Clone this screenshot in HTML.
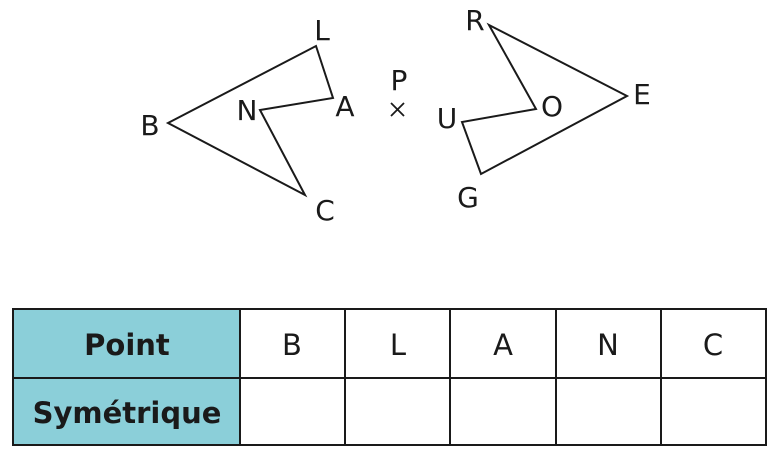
<!DOCTYPE html>
<html><head><style>
html,body{margin:0;padding:0;background:#fff;width:774px;height:462px;overflow:hidden}
svg{display:block}
text{font-family:"DejaVu Sans","Liberation Sans",sans-serif;fill:#1a1a1a}
</style></head><body>
<svg width="774" height="462" viewBox="0 0 774 462">
<g fill="none" stroke="#1a1a1a" stroke-width="2" stroke-linejoin="miter">
<polygon points="168,123 316,46 333,98 260,110 305,195"/>
<polygon points="489,25 627,96 481,174 462,122 536,109"/>
<line x1="391" y1="103" x2="404" y2="116" stroke-width="1.8"/>
<line x1="404" y1="103" x2="391" y2="116" stroke-width="1.8"/>
</g>
<g font-size="28" text-anchor="middle">
<text x="322" y="40">L</text>
<text x="345" y="116">A</text>
<text x="247" y="120">N</text>
<text x="150" y="135">B</text>
<text x="325" y="220">C</text>
<text x="399" y="90">P</text>
<text x="475" y="30">R</text>
<text x="642" y="104">E</text>
<text x="552" y="116">O</text>
<text x="447" y="128">U</text>
<text x="468" y="207">G</text>
</g>
<rect x="13" y="309" width="227" height="136" fill="#8bcfd9"/>
<g stroke="#1a1a1a" stroke-width="2" fill="none">
<rect x="13" y="309" width="753" height="136"/>
<line x1="13" y1="378" x2="766" y2="378"/>
<line x1="240" y1="309" x2="240" y2="445"/>
<line x1="345" y1="309" x2="345" y2="445"/>
<line x1="450" y1="309" x2="450" y2="445"/>
<line x1="556" y1="309" x2="556" y2="445"/>
<line x1="661" y1="309" x2="661" y2="445"/>
</g>
<g font-size="29" text-anchor="middle" font-weight="bold">
<text x="127" y="355">Point</text>
<text x="127" y="423">Symétrique</text>
</g>
<g font-size="29" text-anchor="middle">
<text x="292" y="355">B</text>
<text x="398" y="355">L</text>
<text x="503" y="355">A</text>
<text x="608" y="355">N</text>
<text x="713" y="355">C</text>
</g>
</svg>
</body></html>
